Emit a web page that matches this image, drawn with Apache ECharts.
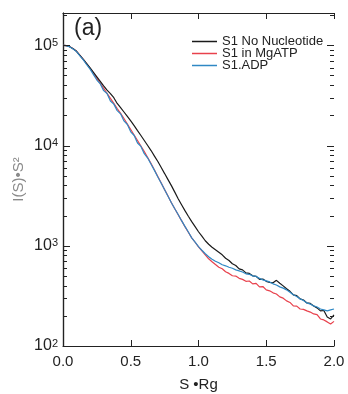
<!DOCTYPE html>
<html>
<head>
<meta charset="utf-8">
<script src="https://cdn.jsdelivr.net/npm/echarts@6/dist/echarts.min.js"></script>
<style>html,body{margin:0;padding:0;background:#fff}#c{width:348px;height:394px}</style>
</head>
<body>
<div id="c"></div>
<script>
// S·Rg sample positions
const sRg = [];
for (let i = 0; i <= 80; i++) sRg.push(+(i * 0.025).toFixed(3));

const noNucleotide = [
  100000, 99300, 96600, 92300, 87100, 79400, 72400, 65800, 59600, 53700,
  48400, 43700, 39400, 35700, 33000, 30000, 26300, 23900, 21600, 19500,
  17600, 15800, 14100, 12600, 11220, 10000, 8910, 7850, 6920, 6030,
  5250, 4570, 3980, 3430, 2950, 2570, 2240, 1970, 1740, 1550,
  1380, 1245, 1122, 1035, 966, 912, 861, 812, 750, 712,
  661, 636, 589, 575, 537, 530, 501, 496, 462, 465,
  442, 432, 427, 452, 422, 398, 372, 351, 324, 318,
  295, 288, 269, 266, 251, 240, 224, 226, 195, 186,
  204
];
const mgATP = [
  100000, 99300, 96600, 92300, 87100, 79400, 72400, 65300, 58900, 52500,
  46800, 41700, 37200, 33100, 29500, 26300, 23400, 20900, 18600, 16400,
  14450, 12740, 11220, 9890, 8710, 7590, 6610, 5690, 4900, 4220,
  3630, 3130, 2690, 2340, 2040, 1780, 1550, 1365, 1200, 1084,
  977, 891, 813, 741, 692, 650, 610, 590, 550, 530,
  502, 498, 473, 462, 442, 445, 417, 422, 389, 392,
  363, 355, 339, 330, 309, 300, 282, 272, 251, 250,
  234, 232, 224, 218, 209, 206, 186, 182, 174, 166,
  176
];
const adp = [
  100000, 99200, 96400, 91800, 86500, 78600, 71500, 64000, 57800, 51000,
  45000, 41200, 35300, 33000, 27800, 25900, 22300, 20700, 17600, 16200,
  13700, 12600, 10600, 9800, 8300, 7500, 6500, 5650, 4850, 4200,
  3620, 3120, 2690, 2340, 2050, 1780, 1560, 1370, 1200, 1085,
  980, 902, 832, 776, 733, 700, 676, 646, 631, 610,
  596, 575, 562, 548, 525, 519, 501, 494, 473, 457,
  447, 436, 417, 406, 389, 378, 363, 343, 324, 312,
  295, 284, 269, 262, 251, 245, 234, 229, 224, 229,
  234
];
const legendNames = ['S1 No Nucleotide', 'S1 in MgATP', 'S1.ADP'];
const majorTicks = [100, 1000, 10000, 100000];
const minorTicks = [];
majorTicks.forEach(d => { for (let k = 2; k <= 9; k++) { if (k * d < 210000) minorTicks.push(k * d); } });

const font = 'Liberation Sans, Arial, sans-serif';
const pairs = arr => arr.map((v, i) => [sRg[i], v]);
const supLabel = v => {
  const e = Math.round(Math.log10(v));
  if (Math.abs(v - Math.pow(10, e)) / v > 1e-6) return '';
  return '{b|10}{s|' + e + '}';
};
const lineSeries = (name, data, color) => ({
  name, type: 'line', data: pairs(data), showSymbol: false, symbol: 'none',
  lineStyle: { color, width: 1.2 }, itemStyle: { color }, animation: false
});
const legendRow = (name, top) => ({
  data: [name], orient: 'horizontal', left: 192, top, itemWidth: 25, itemHeight: 1.5, padding: 0,
  icon: 'rect', textStyle: { fontSize: 13, color: '#222', fontFamily: font }
});

const chart = echarts.init(document.getElementById('c'));
chart.setOption({
  backgroundColor: '#fff',
  animation: false,
  textStyle: { fontFamily: font },
  grid: { left: 63, right: 14, top: 13, bottom: 48, outerBoundsMode: 'none', containLabel: false },
  xAxis: [
    {
      type: 'value', min: 0, max: 2, interval: 0.5, position: 'bottom',
      axisLine: { show: true, lineStyle: { color: '#222', width: 1.2 } },
      axisTick: { show: true, inside: true, length: 6, lineStyle: { color: '#222' } },
      axisLabel: { formatter: v => v.toFixed(1), fontSize: 15, color: '#222', margin: 8, fontFamily: font },
      splitLine: { show: false },
      name: 'S •Rg', nameLocation: 'middle', nameGap: 31, nameMoveOverlap: false,
      nameTextStyle: { fontSize: 15, color: '#222', fontFamily: font }
    },
    {
      type: 'value', min: 0, max: 2, interval: 0.5, position: 'top',
      axisLine: { show: true, lineStyle: { color: '#222', width: 1.2 } },
      axisTick: { show: true, inside: true, length: 6, lineStyle: { color: '#222' } },
      axisLabel: { show: false }, splitLine: { show: false }
    }
  ],
  yAxis: [
    {
      type: 'log', logBase: 10, min: 100, max: 210000, position: 'left',
      axisLine: { show: true, lineStyle: { color: '#222', width: 1.2 } },
      axisTick: { show: false },
      axisLabel: {
        formatter: supLabel, margin: 5, showMinLabel: true,
        rich: {
          b: { fontSize: 16, color: '#222', fontFamily: font, lineHeight: 16 },
          s: { fontSize: 11, color: '#222', fontFamily: font, verticalAlign: 'top', lineHeight: 11, padding: [0, 0, 9, 0] }
        }
      },
      splitLine: { show: false },
      name: 'I(S)•S²', nameLocation: 'middle', nameGap: 37, nameMoveOverlap: false,
      nameTextStyle: { fontSize: 15, color: '#8a8a8a', fontFamily: font }
    },
    {
      type: 'log', logBase: 10, min: 100, max: 210000, position: 'right',
      axisLine: { show: true, lineStyle: { color: '#222', width: 1.2 } },
      axisTick: { show: false },
      axisLabel: { show: false }, splitLine: { show: false }
    }
  ],
  legend: [legendRow(legendNames[0], 35), legendRow(legendNames[1], 47), legendRow(legendNames[2], 59)],
  graphic: [
    { id: 'panel', type: 'text', left: 74, top: 17, style: { text: '(a)', fontSize: 23, fill: '#222', fontFamily: font } }
  ],
  series: [
    lineSeries('S1 in MgATP', mgATP, '#e8414c'),
    lineSeries('S1 No Nucleotide', noNucleotide, '#1a1a1a'),
    lineSeries('S1.ADP', adp, '#2f88c4')
  ]
});

// log-axis tick marks on both vertical edges, positioned through the chart's own scales
const tickEls = [];
const addTicks = (values, len, prefix) => {
  values.forEach((v, i) => {
    const l = chart.convertToPixel({ gridIndex: 0 }, [0, v]);
    const r = chart.convertToPixel({ gridIndex: 0 }, [2, v]);
    const y = Math.round(l[1]) + 0.5;
    tickEls.push({ id: prefix + 'L' + i, type: 'line', z: 100, silent: true,
      shape: { x1: l[0], y1: y, x2: l[0] + len, y2: y }, style: { stroke: '#222', lineWidth: 1 } });
    tickEls.push({ id: prefix + 'R' + i, type: 'line', z: 100, silent: true,
      shape: { x1: r[0], y1: y, x2: r[0] - len, y2: y }, style: { stroke: '#222', lineWidth: 1 } });
  });
};
addTicks(majorTicks, 7, 'maj');
addTicks(minorTicks, 4, 'min');
chart.setOption({ graphic: tickEls });
</script>
</body>
</html>
